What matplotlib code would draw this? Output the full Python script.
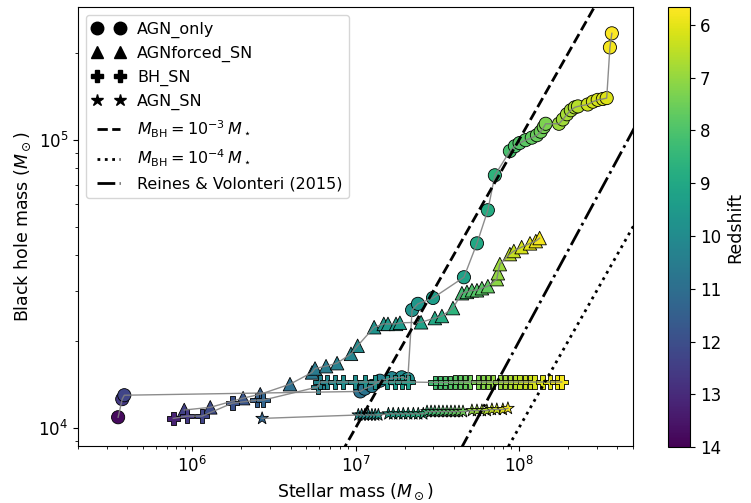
import numpy as np
import matplotlib
matplotlib.use("Agg")
import matplotlib.pyplot as plt
from matplotlib.colors import Normalize
from matplotlib.lines import Line2D

# stellar mass, black hole mass (Msun) and redshift along each run
agn_only_mstar = [3.52e5, 3.73e5, 3.84e5, 1.07e7, 1.14e7, 1.26e7, 1.41e7, 1.67e7,
                  1.92e7, 2.09e7, 2.22e7, 2.41e7, 2.98e7, 4.61e7, 5.54e7, 6.46e7,
                  7.13e7, 8.81e7, 9.46e7, 1.01e8, 1.10e8, 1.20e8, 1.29e8, 1.36e8,
                  1.42e8, 1.46e8, 1.76e8, 1.86e8, 1.97e8, 2.08e8, 2.20e8, 2.30e8,
                  2.64e8, 2.84e8, 3.04e8, 3.27e8, 3.45e8, 3.61e8, 3.71e8]
agn_only_mbh = [1.09e4, 1.26e4, 1.30e4, 1.34e4, 1.37e4, 1.40e4, 1.46e4, 1.49e4,
                1.50e4, 1.48e4, 2.57e4, 2.70e4, 2.83e4, 3.34e4, 4.38e4, 5.71e4,
                7.55e4, 9.16e4, 9.53e4, 9.77e4, 1.00e5, 1.02e5, 1.04e5, 1.07e5,
                1.11e5, 1.14e5, 1.14e5, 1.18e5, 1.23e5, 1.27e5, 1.30e5, 1.31e5,
                1.33e5, 1.36e5, 1.38e5, 1.39e5, 1.40e5, 2.10e5, 2.35e5]
agn_only_z = [13.8, 12.6, 12.3, 10.9, 10.8, 10.6, 10.4, 10.2,
              10.0, 9.9, 9.7, 9.6, 9.4, 9.2, 9.0, 8.9,
              8.6, 8.1, 8.0, 7.9, 7.8, 7.7, 7.6, 7.5,
              7.4, 7.3, 6.9, 6.85, 6.8, 6.75, 6.7, 6.6,
              6.3, 6.25, 6.2, 6.15, 6.1, 5.8, 5.7]

forced_mstar = [8.94e5, 1.29e6, 2.05e6, 2.61e6, 3.97e6, 5.42e6, 5.65e6, 6.60e6,
                7.71e6, 9.38e6, 1.03e7, 1.30e7, 1.49e7, 1.58e7, 1.77e7, 1.87e7,
                2.52e7, 3.06e7, 3.38e7, 3.95e7, 4.48e7, 4.81e7, 5.16e7, 5.54e7,
                5.94e7, 6.46e7, 7.33e7, 7.44e7, 7.65e7, 8.81e7, 9.32e7, 1.04e8,
                1.17e8, 1.27e8, 1.34e8]
forced_mbh = [1.155e4, 1.18e4, 1.27e4, 1.31e4, 1.42e4, 1.56e4, 1.61e4, 1.64e4,
              1.68e4, 1.81e4, 1.93e4, 2.24e4, 2.30e4, 2.30e4, 2.30e4, 2.32e4,
              2.33e4, 2.41e4, 2.45e4, 2.61e4, 2.94e4, 2.97e4, 3.01e4, 3.01e4,
              3.06e4, 3.11e4, 3.29e4, 3.45e4, 3.71e4, 4.02e4, 4.12e4, 4.25e4,
              4.38e4, 4.46e4, 4.57e4]
forced_z = [12.4, 12.1, 11.8, 11.5, 11.0, 10.7, 10.6, 10.5,
            10.4, 10.2, 10.0, 9.7, 9.6, 9.55, 9.5, 9.45,
            9.2, 9.0, 8.9, 8.6, 8.2, 8.1, 8.0, 7.9,
            7.8, 7.7, 7.1, 7.0, 6.9, 6.5, 6.4, 6.2,
            6.0, 5.9, 5.8]

bhsn_mstar = [7.66e5, 9.31e5, 1.15e6, 1.76e6, 2.50e6, 2.72e6, 5.90e6, 6.07e6,
              6.70e6, 7.50e6, 8.39e6, 9.94e6, 1.14e7, 1.32e7, 1.56e7, 1.75e7,
              1.92e7, 2.09e7, 3.06e7, 3.29e7, 3.53e7, 3.78e7, 4.06e7, 4.36e7,
              4.68e7, 5.01e7, 5.61e7, 6.03e7, 6.46e7, 6.93e7, 7.65e7, 8.21e7,
              8.81e7, 9.46e7, 1.01e8, 1.09e8, 1.17e8, 1.25e8, 1.40e8, 1.55e8,
              1.71e8, 1.83e8]
bhsn_mbh = [1.08e4, 1.10e4, 1.10e4, 1.22e4, 1.25e4, 1.25e4, 1.39e4, 1.445e4,
            1.445e4, 1.445e4, 1.445e4, 1.445e4, 1.445e4, 1.445e4, 1.445e4, 1.445e4,
            1.445e4, 1.445e4, 1.44e4, 1.44e4, 1.44e4, 1.44e4, 1.445e4, 1.445e4,
            1.445e4, 1.445e4, 1.445e4, 1.445e4, 1.445e4, 1.445e4, 1.445e4, 1.445e4,
            1.445e4, 1.445e4, 1.445e4, 1.445e4, 1.445e4, 1.445e4, 1.445e4, 1.445e4,
            1.445e4, 1.445e4]
bhsn_z = [13.2, 12.6, 12.3, 11.9, 11.5, 11.3, 10.3, 10.2,
          10.1, 10.0, 9.95, 9.9, 9.8, 9.7, 9.6, 9.5,
          9.45, 9.4, 8.2, 8.1, 8.0, 7.9, 7.8, 7.7,
          7.6, 7.5, 7.3, 7.2, 7.1, 7.0, 6.9, 6.8,
          6.7, 6.6, 6.5, 6.4, 6.3, 6.2, 6.1, 6.0,
          5.9, 5.8]

agnsn_mstar = [2.68e6, 1.04e7, 1.09e7, 1.14e7, 1.20e7, 1.26e7, 1.32e7, 1.38e7,
               1.59e7, 1.70e7, 1.83e7, 1.96e7, 2.10e7, 2.26e7, 2.42e7, 2.60e7,
               2.74e7, 2.90e7, 3.06e7, 3.24e7, 3.43e7, 3.63e7, 3.84e7, 4.06e7,
               4.30e7, 4.55e7, 5.16e7, 5.54e7, 5.94e7, 6.37e7, 6.84e7, 7.33e7,
               7.98e7, 8.57e7]
agnsn_mbh = [1.08e4, 1.11e4, 1.11e4, 1.11e4, 1.11e4, 1.11e4, 1.11e4, 1.11e4,
             1.12e4, 1.12e4, 1.12e4, 1.12e4, 1.12e4, 1.12e4, 1.12e4, 1.12e4,
             1.14e4, 1.14e4, 1.14e4, 1.14e4, 1.14e4, 1.14e4, 1.14e4, 1.14e4,
             1.14e4, 1.14e4, 1.15e4, 1.15e4, 1.15e4, 1.15e4, 1.16e4, 1.16e4,
             1.16e4, 1.17e4]
agnsn_z = [11.3, 10.0, 9.95, 9.9, 9.8, 9.75, 9.7, 9.6,
           9.4, 9.3, 9.2, 9.1, 9.0, 8.9, 8.8, 8.6,
           8.4, 8.3, 8.2, 8.1, 8.0, 7.9, 7.8, 7.7,
           7.6, 7.5, 7.0, 6.9, 6.75, 6.6, 6.4, 6.3,
           6.0, 5.8]

runs = [
    ("AGN_only", "o", 90, agn_only_mstar, agn_only_mbh, agn_only_z),
    ("AGNforced_SN", "^", 95, forced_mstar, forced_mbh, forced_z),
    ("BH_SN", "P", 95, bhsn_mstar, bhsn_mbh, bhsn_z),
    ("AGN_SN", "*", 90, agnsn_mstar, agnsn_mbh, agnsn_z),
]

plt.rcParams["font.size"] = 12

fig = plt.figure(figsize=(7.51, 5.03), dpi=100)
ax = fig.add_axes([0.1039, 0.1133, 0.739, 0.8727])
cax = fig.add_axes([0.8895, 0.1113, 0.0293, 0.8747])

cmap = plt.get_cmap("viridis_r")
norm = Normalize(vmin=5.66, vmax=14)

handles = []
for name, mk, size, ms, mbh, z in runs:
    ax.plot(ms, mbh, color="gray", lw=1, alpha=0.9, zorder=2)
    ax.scatter(ms, mbh, c=z, cmap=cmap, norm=norm, marker=mk, s=size,
               edgecolors="k", linewidths=0.6, zorder=1)
    handles.append(Line2D([], [], marker=mk, color="k", ls="none", ms=9,
                          label=name))

# scaling relations
mgrid = np.logspace(5, 9, 200)
l1, = ax.plot(mgrid, 1e-3 * mgrid, "k--", lw=2,
              label=r"$M_{\rm BH} = 10^{-3}\,M_\star$")
l2, = ax.plot(mgrid, 1e-4 * mgrid, "k:", lw=2,
              label=r"$M_{\rm BH} = 10^{-4}\,M_\star$")
l3, = ax.plot(mgrid, 10 ** (7.45 + 1.05 * np.log10(mgrid / 1e11)), "k-.",
              lw=2, label="Reines & Volonteri (2015)")
handles += [l1, l2, l3]

ax.set_xscale("log")
ax.set_yscale("log")
ax.set_xlim(2.0e5, 5.0e8)
ax.set_ylim(8.66e3, 2.9e5)
ax.set_xlabel(r"Stellar mass ($M_\odot$)", fontsize=12.5)
ax.set_ylabel(r"Black hole mass ($M_\odot$)", fontsize=12.5)

ax.legend(handles=handles, loc="upper left", numpoints=2, fontsize=11.5)

cbar = fig.colorbar(plt.cm.ScalarMappable(norm=norm, cmap=cmap), cax=cax)
cbar.ax.invert_yaxis()
cbar.set_label("Redshift", fontsize=12.5)

fig.savefig("out.png", dpi=100)
